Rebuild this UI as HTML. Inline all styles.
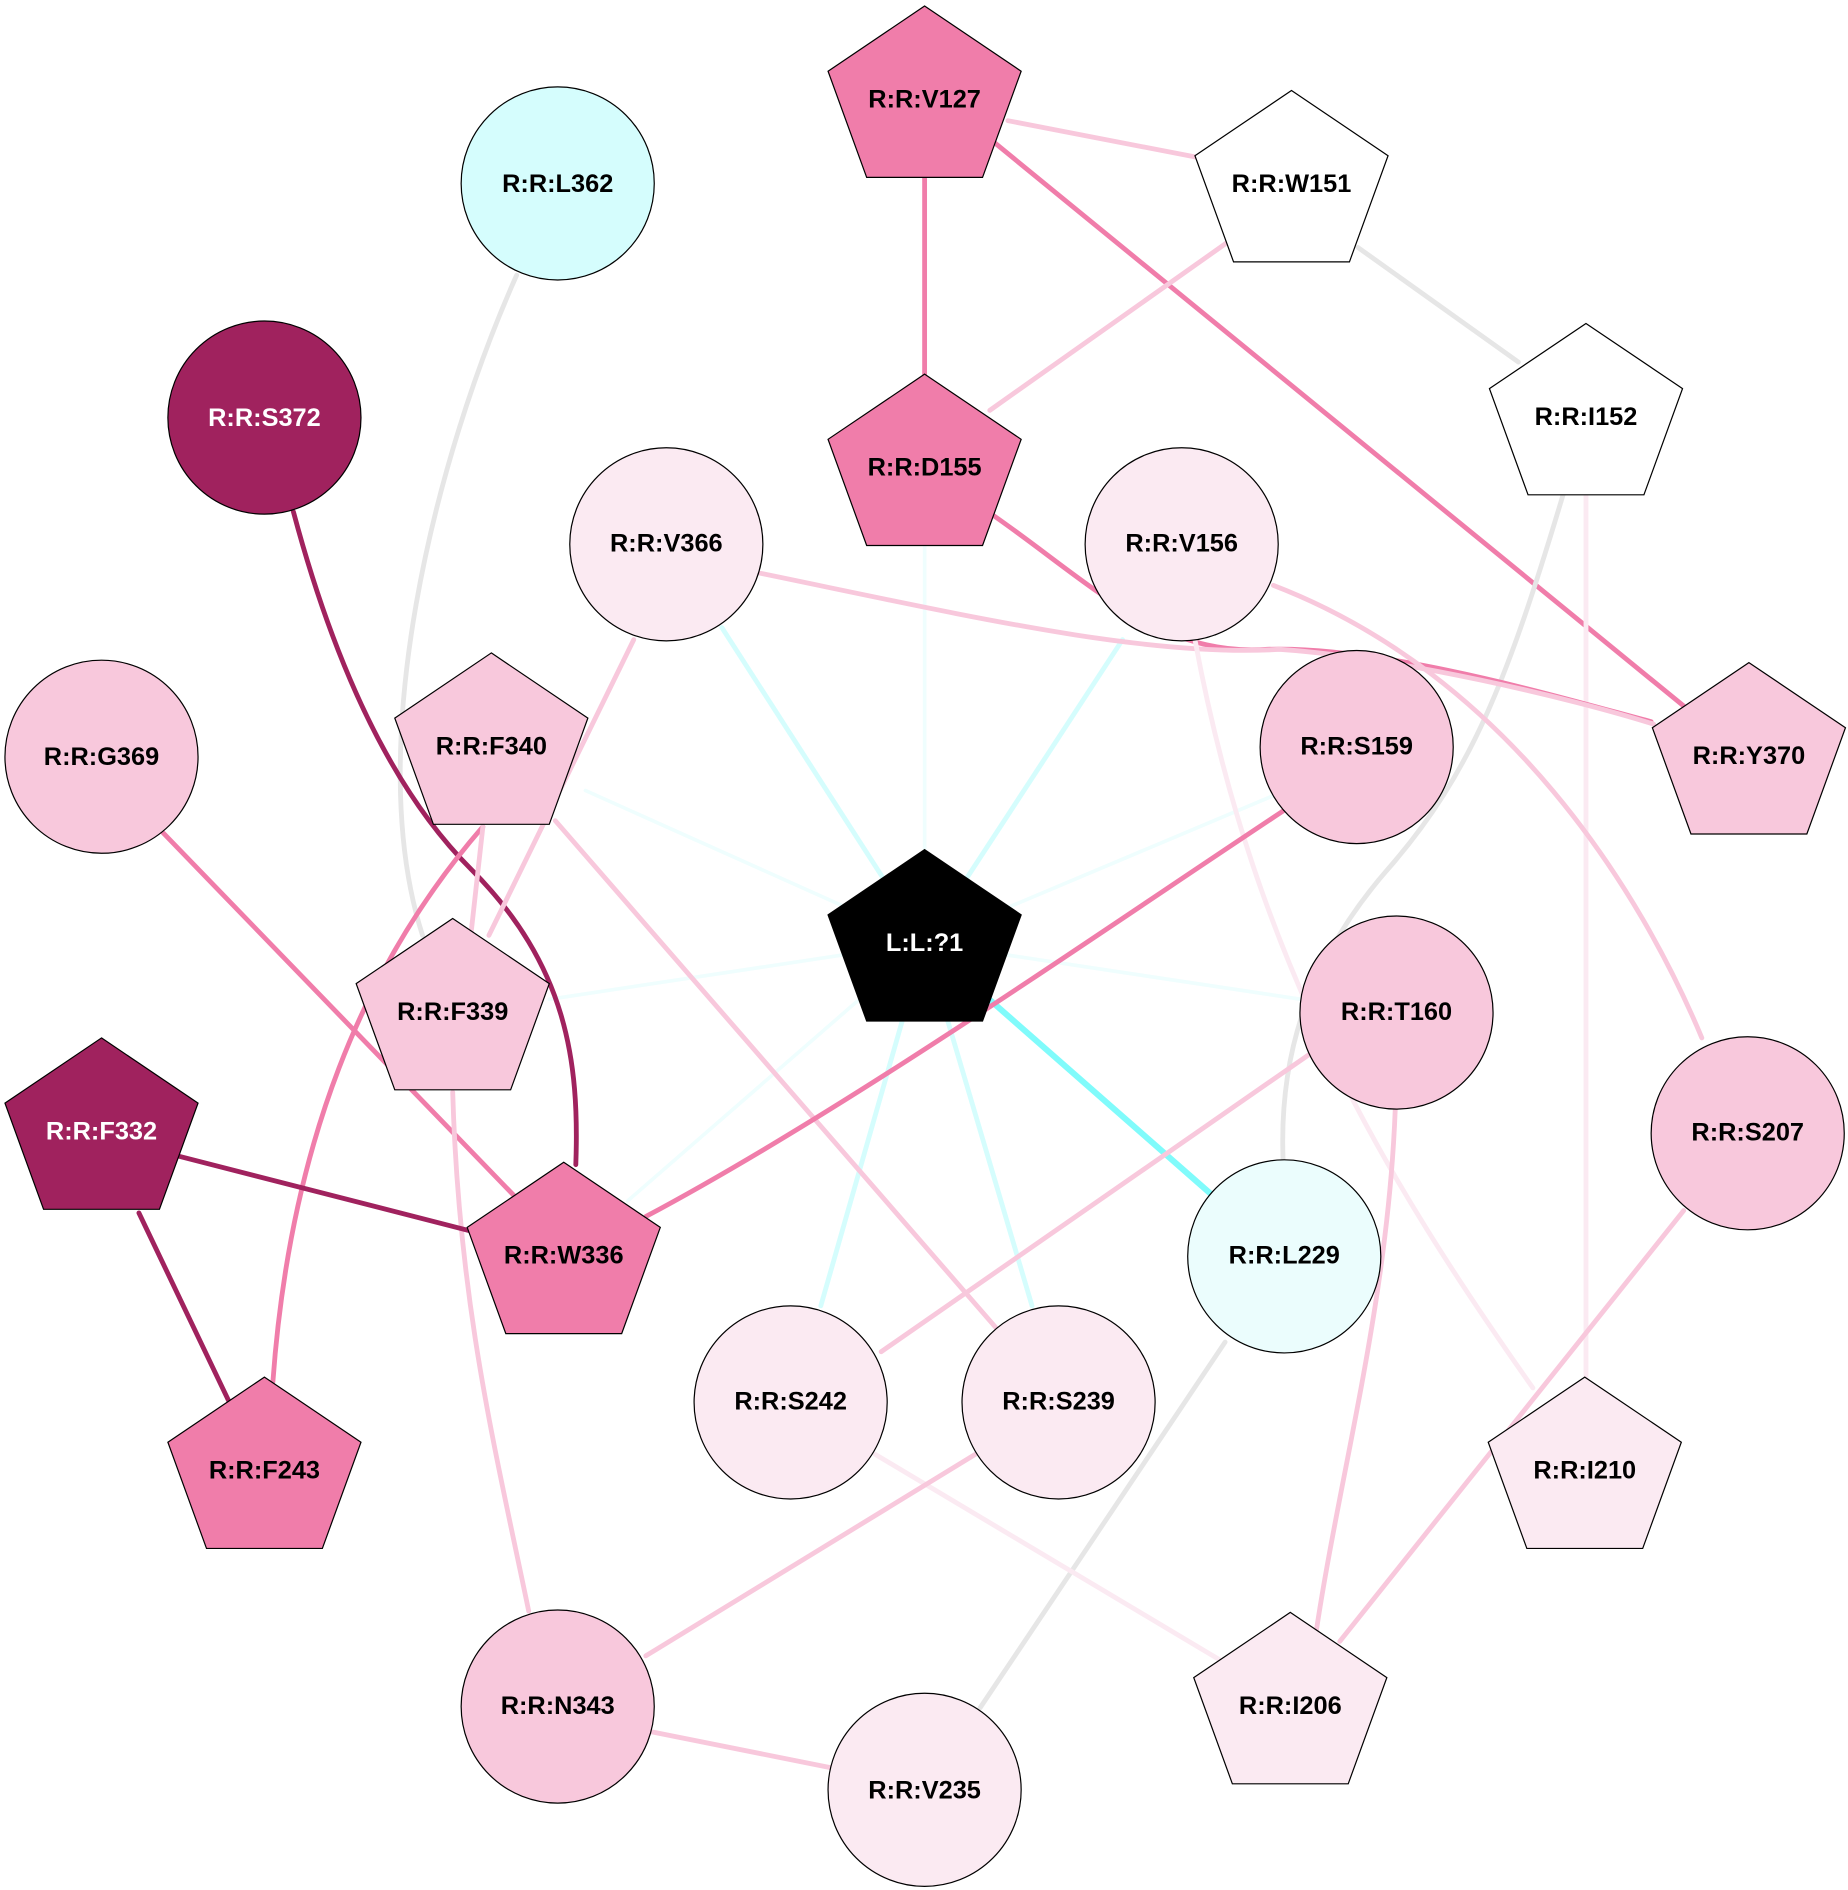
<!DOCTYPE html>
<html><head><meta charset="utf-8"><style>html,body{margin:0;padding:0;background:#fff}svg{display:block}</style></head>
<body>
<svg width="1848" height="1890" viewBox="0 0 1531 1566" xmlns="http://www.w3.org/2000/svg">
<g fill="none" stroke-linecap="round">
<path d="M766,781 L766,440" stroke="#effefe" stroke-width="3"/>
<path d="M766,781 L598,520" stroke="#d5fdfd" stroke-width="4"/>
<path d="M766,781 L930,530" stroke="#d5fdfd" stroke-width="4"/>
<path d="M766,781 L485,655" stroke="#effefe" stroke-width="3"/>
<path d="M766,781 L1065,655" stroke="#effefe" stroke-width="3"/>
<path d="M766,781 L455,828" stroke="#effefe" stroke-width="3"/>
<path d="M766,781 L1078,828" stroke="#effefe" stroke-width="3"/>
<path d="M766,781 L520,995" stroke="#effefe" stroke-width="3"/>
<path d="M766,781 L680,1082" stroke="#d5fdfd" stroke-width="4"/>
<path d="M766,781 L855,1082" stroke="#d5fdfd" stroke-width="4"/>
<path d="M766,781 L1004,990" stroke="#80fbfb" stroke-width="5"/>
<path d="M835,100 L990,130" stroke="#f8c8dc" stroke-width="4"/>
<path d="M766,140 L766,315" stroke="#f07daa" stroke-width="4"/>
<path d="M820,115 L1395,585" stroke="#f07daa" stroke-width="4"/>
<path d="M1018,200 L820,340" stroke="#f8c8dc" stroke-width="4"/>
<path d="M1125,205 L1258,300" stroke="#e6e6e6" stroke-width="4"/>
<path d="M428,228 C360,380 300,620 350,775" stroke="#e6e6e6" stroke-width="4"/>
<path d="M243,424 C290,600 350,680 390,720 C470,800 480,880 477,965" stroke="#a0225e" stroke-width="4"/>
<path d="M1295,410 C1250,560 1220,640 1150,720 C1080,800 1060,880 1063,960" stroke="#e6e6e6" stroke-width="4"/>
<path d="M1314,405 L1314,1142" stroke="#fbeaf2" stroke-width="4"/>
<path d="M820,425 C900,480 960,545 1050,538 C1150,535 1300,580 1368,598" stroke="#f07daa" stroke-width="4"/>
<path d="M630,475 C800,510 950,545 1060,538 C1160,545 1300,578 1370,600" stroke="#f8c8dc" stroke-width="4"/>
<path d="M525,530 L405,775" stroke="#f8c8dc" stroke-width="4"/>
<path d="M1055,485 C1250,560 1360,740 1410,860" stroke="#f8c8dc" stroke-width="4"/>
<path d="M990,530 C1040,800 1150,980 1270,1150" stroke="#fbeaf2" stroke-width="4"/>
<path d="M135,690 L430,995" stroke="#f07daa" stroke-width="4"/>
<path d="M400,685 C300,800 240,950 226,1145" stroke="#f07daa" stroke-width="4"/>
<path d="M400,685 L390,775" stroke="#f8c8dc" stroke-width="4"/>
<path d="M375,905 C380,1080 410,1200 438,1335" stroke="#f8c8dc" stroke-width="4"/>
<path d="M460,680 L825,1100" stroke="#f8c8dc" stroke-width="4"/>
<path d="M1063,672 C900,780 700,920 535,1008" stroke="#f07daa" stroke-width="4"/>
<path d="M148,958 L390,1020" stroke="#a0225e" stroke-width="4"/>
<path d="M115,1005 L190,1162" stroke="#a0225e" stroke-width="4"/>
<path d="M1090,870 L730,1120" stroke="#f8c8dc" stroke-width="4"/>
<path d="M1156,918 C1150,1080 1110,1220 1090,1355" stroke="#f8c8dc" stroke-width="4"/>
<path d="M1395,1003 L1110,1360" stroke="#f8c8dc" stroke-width="4"/>
<path d="M1015,1112 L812,1415" stroke="#e6e6e6" stroke-width="4"/>
<path d="M725,1205 L1010,1375" stroke="#fbeaf2" stroke-width="4"/>
<path d="M808,1205 L535,1372" stroke="#f8c8dc" stroke-width="4"/>
<path d="M540,1435 L690,1465" stroke="#f8c8dc" stroke-width="4"/>
</g>
<defs>
<polygon id="pg" points="0,-78 80,-24 48,64 -48,64 -80,-24"/>
</defs>
<g stroke="#000" stroke-width="1">
<use href="#pg" x="766" y="83" fill="#f07daa"/>
<use href="#pg" x="1070" y="153" fill="#fff"/>
<circle cx="462" cy="152" r="80" fill="#d5fdfd"/>
<circle cx="219" cy="346" r="80" fill="#a0225e"/>
<use href="#pg" x="1314" y="346" fill="#fff"/>
<use href="#pg" x="766" y="388" fill="#f07daa"/>
<circle cx="552" cy="451" r="80" fill="#fbeaf2"/>
<circle cx="979" cy="451" r="80" fill="#fbeaf2"/>
<circle cx="84" cy="627" r="80" fill="#f8c8dc"/>
<use href="#pg" x="407" y="619" fill="#f8c8dc"/>
<circle cx="1124" cy="619" r="80" fill="#f8c8dc"/>
<use href="#pg" x="1449" y="627" fill="#f8c8dc"/>
<use href="#pg" x="766" y="782" fill="#000"/>
<use href="#pg" x="375" y="839" fill="#f8c8dc"/>
<circle cx="1157" cy="839" r="80" fill="#f8c8dc"/>
<use href="#pg" x="84" y="938" fill="#a0225e"/>
<circle cx="1448" cy="939" r="80" fill="#f8c8dc"/>
<use href="#pg" x="467" y="1041" fill="#f07daa"/>
<circle cx="1064" cy="1041" r="80" fill="#ebfdfd"/>
<circle cx="655" cy="1162" r="80" fill="#fbeaf2"/>
<circle cx="877" cy="1162" r="80" fill="#fbeaf2"/>
<use href="#pg" x="219" y="1219" fill="#f07daa"/>
<use href="#pg" x="1313" y="1219" fill="#fbeaf2"/>
<circle cx="462" cy="1414" r="80" fill="#f8c8dc"/>
<use href="#pg" x="1069" y="1414" fill="#fbeaf2"/>
<circle cx="766" cy="1483" r="80" fill="#fbeaf2"/>
</g>
<g font-family="'Liberation Sans',Arial,sans-serif" font-weight="bold" font-size="21" text-anchor="middle" fill="#000">
<text x="766" y="89">R:R:V127</text>
<text x="1070" y="159">R:R:W151</text>
<text x="462" y="159">R:R:L362</text>
<text x="219" y="353" fill="#fff">R:R:S372</text>
<text x="1314" y="352">R:R:I152</text>
<text x="766" y="394">R:R:D155</text>
<text x="552" y="457">R:R:V366</text>
<text x="979" y="457">R:R:V156</text>
<text x="84" y="634">R:R:G369</text>
<text x="407" y="625">R:R:F340</text>
<text x="1124" y="625">R:R:S159</text>
<text x="1449" y="633">R:R:Y370</text>
<text x="766" y="788" fill="#fff">L:L:?1</text>
<text x="375" y="845">R:R:F339</text>
<text x="1157" y="845">R:R:T160</text>
<text x="84" y="944" fill="#fff">R:R:F332</text>
<text x="1448" y="945">R:R:S207</text>
<text x="467" y="1047">R:R:W336</text>
<text x="1064" y="1047">R:R:L229</text>
<text x="655" y="1168">R:R:S242</text>
<text x="877" y="1168">R:R:S239</text>
<text x="219" y="1225">R:R:F243</text>
<text x="1313" y="1225">R:R:I210</text>
<text x="462" y="1420">R:R:N343</text>
<text x="1069" y="1420">R:R:I206</text>
<text x="766" y="1490">R:R:V235</text>
</g>
</svg>
</body></html>
